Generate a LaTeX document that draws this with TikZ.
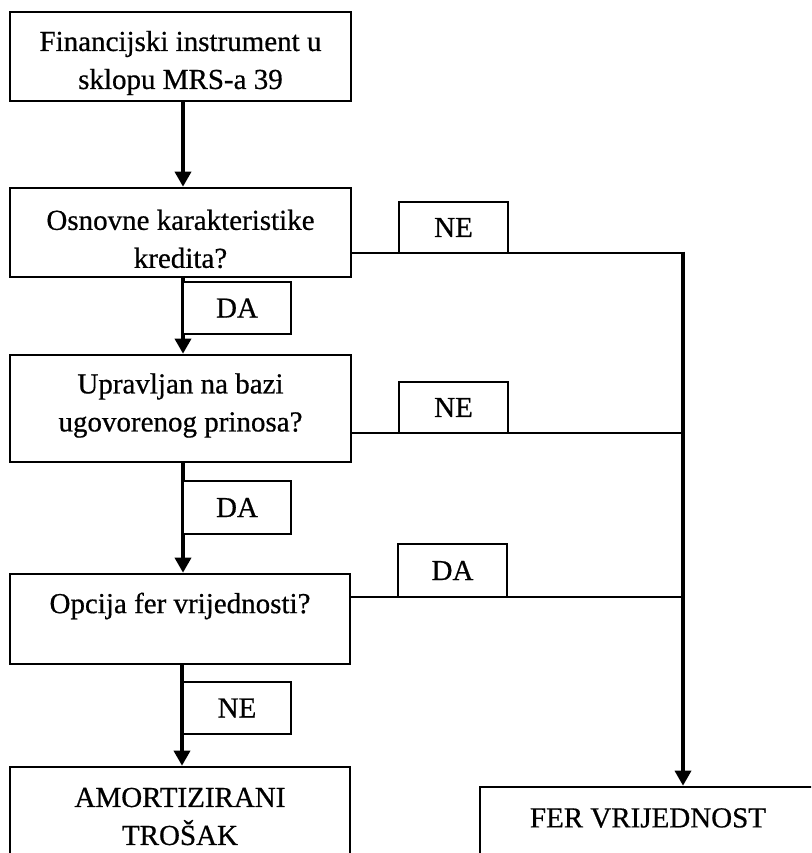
\documentclass[tikz,border=0pt]{standalone}
\usepackage{fontspec}
\setmainfont{Liberation Serif}[FakeBold=0.6]
\usetikzlibrary{arrows.meta}
\begin{document}
\begin{tikzpicture}[x=1pt,y=1pt,
  mainbox/.style={draw=black,line width=2.6pt,fill=white,minimum width=341pt,inner sep=0pt},
  lblbox/.style={draw=black,line width=2.6pt,fill=white,minimum width=108pt,minimum height=52pt,inner sep=0pt,
    font=\fontsize{29}{36}\selectfont},
  txt/.style={align=center,inner sep=0pt,font=\fontsize{29}{38}\selectfont},
  conn/.style={line width=2.6pt},
  flow/.style={line width=3.4pt,-{Triangle[length=15pt,width=16pt]}}]
\useasboundingbox (0,0) rectangle (811,-853);
\clip (0,0) rectangle (811,-853);
\fill[white] (0,0) rectangle (811,-853);
% main boxes
\node[mainbox,minimum height=89pt] (b1) at (180.5,-56.5) {};
\node[mainbox,minimum height=89pt] (b2) at (180.5,-232.5) {};
\node[mainbox,minimum height=107pt] (b3) at (180.5,-408.5) {};
\node[mainbox,minimum width=340pt,minimum height=90pt] (b4) at (180,-619) {};
\node[mainbox,minimum width=340pt,minimum height=110pt] (b5) at (180,-822) {};
\node[mainbox,minimum width=336pt,minimum height=110pt] (fer) at (648,-842) {};
% texts
\node[txt] (t1) at (180.5,-63) {Financijski instrument u\\sklopu MRS-a 39};
\node[txt] (t2) at (180.5,-239) {Osnovne karakteristike\\kredita?};
\node[txt] (t3) at (180.5,-405.5) {Upravljan na bazi\\ugovorenog prinosa?};
\node[txt] (t4) at (180,-606) {Opcija fer vrijednosti?};
\node[txt] (t5) at (180,-816.5) {AMORTIZIRANI\\TROŠAK};
\node[txt] (t6) at (648,-818) {FER VRIJEDNOST};
% junction coordinates
\coordinate (s1) at (183,-101);
\coordinate (s2) at (183,-277);
\coordinate (s3) at (183,-462);
\coordinate (s4) at (182,-664);
\coordinate (j1) at (683,-253);
\coordinate (j2) at (683,-433);
\coordinate (j3) at (683,-597);
% vertical flow
\draw[flow] (s1) -- (s1 |- b2.north);
\draw[flow] (s2) -- (s2 |- b3.north);
\draw[flow] (s3) -- (s3 |- b4.north);
\draw[flow] (s4) -- (s4 |- b5.north);
% right side
\draw[conn] (b2.east |- j1) -- (j1);
\draw[conn] (b3.east |- j2) -- (j2);
\draw[conn] (b4.east |- j3) -- (j3);
\draw[flow] ([yshift=1.3pt]j1) -- (j1 |- fer.north);
% label boxes
\node[lblbox] (l1) at (237,-308) {DA};
\node[lblbox,minimum height=53pt] (l2) at (237,-507.5) {DA};
\node[lblbox] (l3) at (237,-708) {NE};
\node[lblbox,minimum width=109pt,minimum height=51pt] (l4) at (453.5,-227.5) {NE};
\node[lblbox,minimum width=109pt,minimum height=51pt] (l5) at (453.5,-407.5) {NE};
\node[lblbox,minimum width=109pt,minimum height=53pt] (l6) at (452.5,-570.5) {DA};
\end{tikzpicture}
\end{document}
